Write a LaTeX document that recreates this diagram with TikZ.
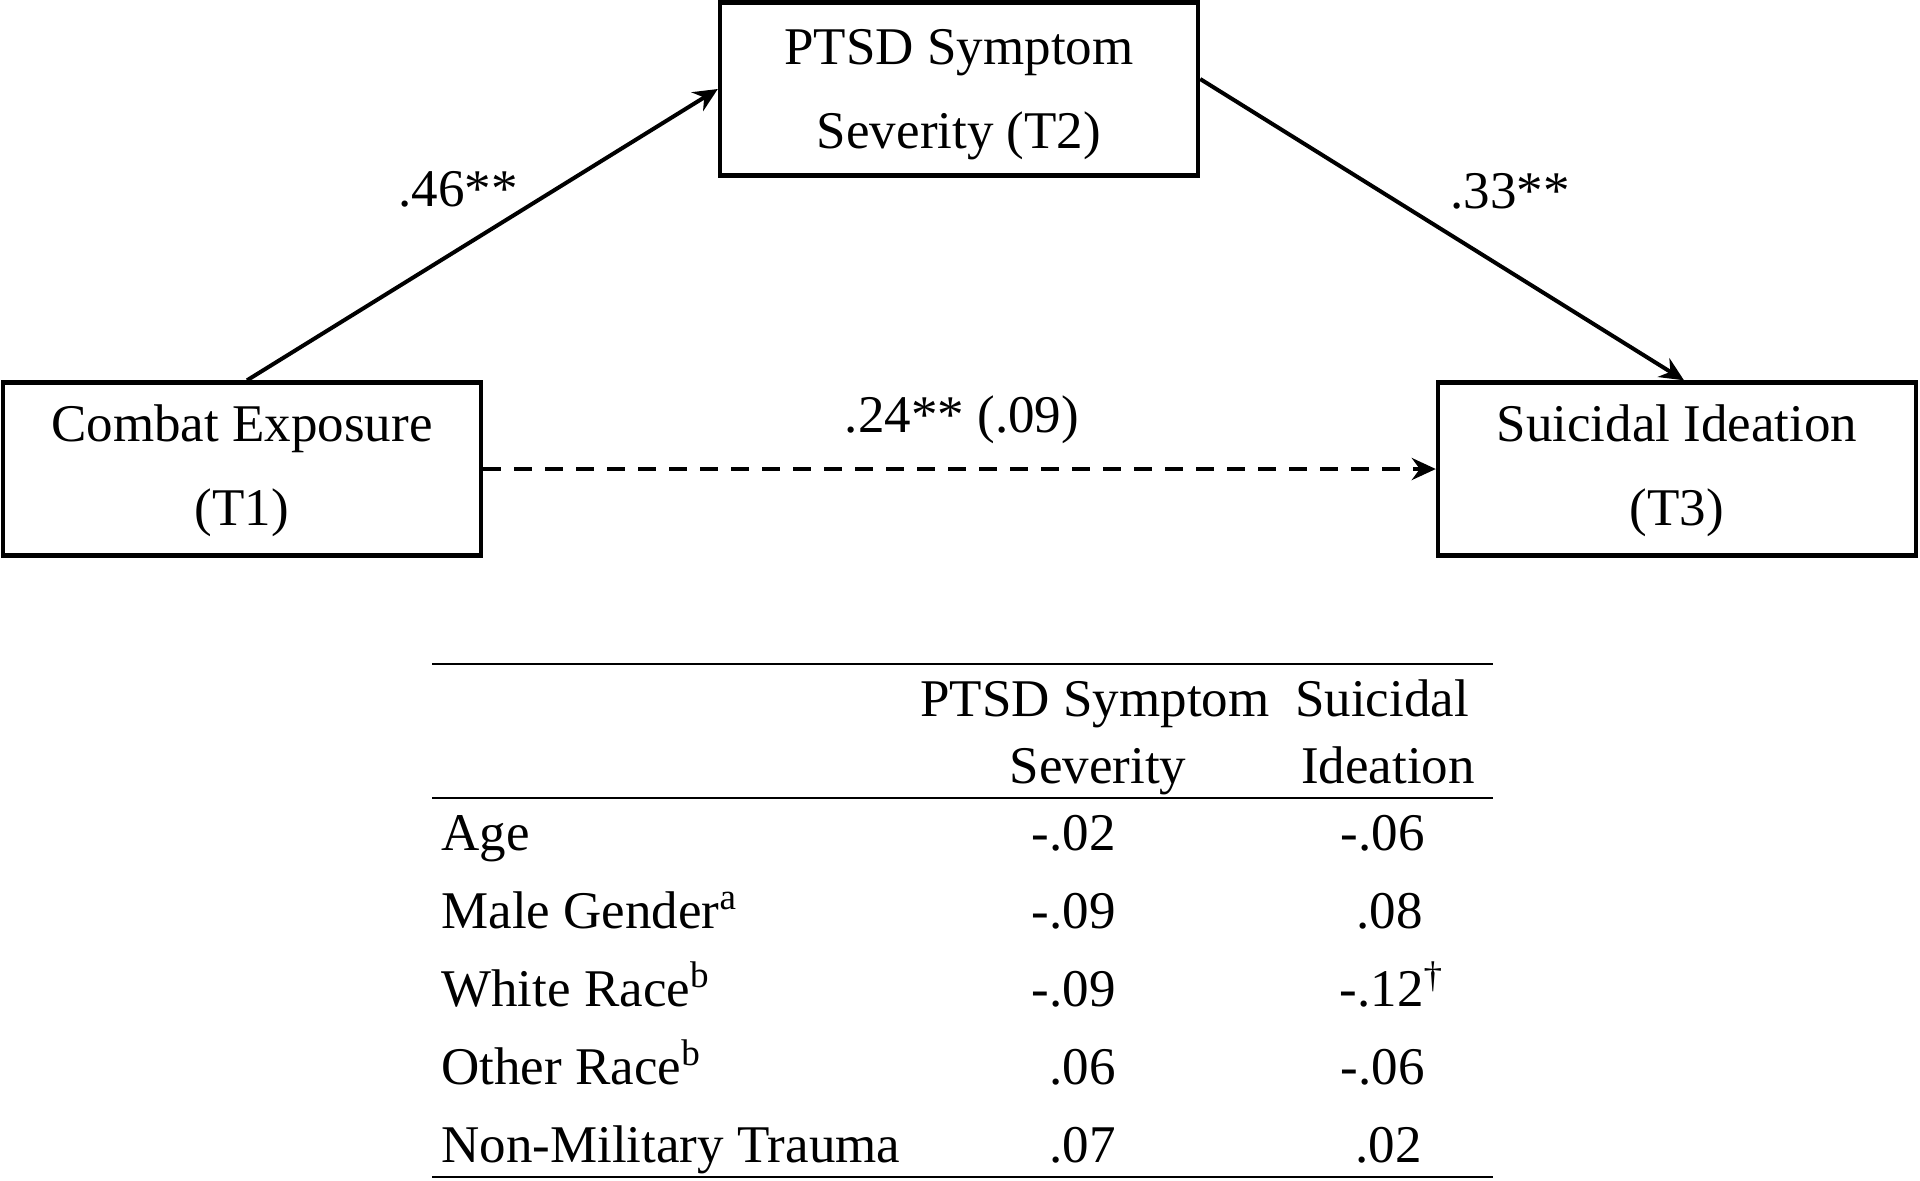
\documentclass[tikz,border=0pt]{standalone}
\usepackage{fontspec}
\setmainfont{Liberation Serif}
\usetikzlibrary{arrows.meta}
\begin{document}
\begin{tikzpicture}[x=0.5pt,y=-0.5pt,
  font=\fontsize{26.5pt}{42pt}\selectfont,
  varbox/.style={draw, line width=2.2pt, minimum width=239pt, minimum height=86.5pt, inner sep=0pt},
  link/.style={line width=2pt, -{Stealth[length=12pt,width=11pt,inset=4pt]}},
  dlink/.style={link, line width=2.3pt, dash pattern=on 9pt off 6.5pt},
  txt/.style={inner sep=0pt, anchor=base},
  ltxt/.style={inner sep=0pt, anchor=base west},
  rtxt/.style={inner sep=0pt, anchor=base east},
  trule/.style={line width=1.1pt}
]
\fill[white] (0,0) rectangle (1920,1180);
\useasboundingbox (0,0) rectangle (1920,1180);

% boxes
\node[varbox] (ptsd) at (959,89) {};
\node[varbox] (combat) at (242,469) {};
\node[varbox] (si) at (1677,469) {};

% box texts
\node[txt] (ptsd1) at (959,64) {PTSD Symptom};
\node[txt] (ptsd2) at (959,148) {Severity (T2)};
\node[txt] (combat1) at (242,441) {Combat Exposure};
\node[txt] (combat2) at (242,525) {(T1)};
\node[txt] (si1) at (1677,441) {Suicidal Ideation};
\node[txt] (si2) at (1677,525) {(T3)};

% connectors
\draw[link] ([xshift=2.5pt]combat.north) -- (ptsd.west);
\draw[link] ([yshift=5pt]ptsd.east) -- ([xshift=3.5pt]si.north);
\draw[dlink] (combat.east) -- (si.west);

% path labels
\node[txt] (la) at (458,206) {.46**};
\node[txt] (lb) at (1510,208) {.33**};
\node[txt] (lc) at (962,432) {.24** (.09)};

% table rules
\coordinate (r1a) at (432,664);  \coordinate (r1b) at (1493,664);
\coordinate (r2a) at (432,798);  \coordinate (r2b) at (1493,798);
\coordinate (r3a) at (432,1177); \coordinate (r3b) at (1493,1177);
\draw[trule] (r1a) -- (r1b);
\draw[trule] (r2a) -- (r2b);
\draw[trule] (r3a) -- (r3b);

% table header
\node[txt] (h1a) at (1095,716) {PTSD Symptom};
\node[txt] (h2a) at (1382,716) {Suicidal};
\node[txt] (h1b) at (1098,783) {Severity};
\node[txt] (h2b) at (1388,783) {Ideation};

% table rows
\node[ltxt] (ra) at (441,850) {Age};
\node[ltxt] (rb) at (441,928) {Male Gender\textsuperscript{a}};
\node[ltxt] (rc) at (441,1006) {White Race\textsuperscript{b}};
\node[ltxt] (rd) at (441,1084) {Other Race\textsuperscript{b}};
\node[ltxt] (re) at (441,1162) {Non-Military Trauma};

\node[rtxt] (pa) at (1116,850) {-.02};
\node[rtxt] (pb) at (1116,928) {-.09};
\node[rtxt] (pc) at (1116,1006) {-.09};
\node[rtxt] (pd) at (1116,1084) {.06};
\node[rtxt] (pe) at (1116,1162) {.07};

\node[rtxt] (sa) at (1425,850) {-.06};
\node[rtxt] (sb) at (1423,928) {.08};
\node[rtxt] (sc) at (1424,1006) {-.12\rlap{\textsuperscript{\textdagger}}};
\node[rtxt] (sd) at (1425,1084) {-.06};
\node[rtxt] (se) at (1422,1162) {.02};
\end{tikzpicture}
\end{document}
